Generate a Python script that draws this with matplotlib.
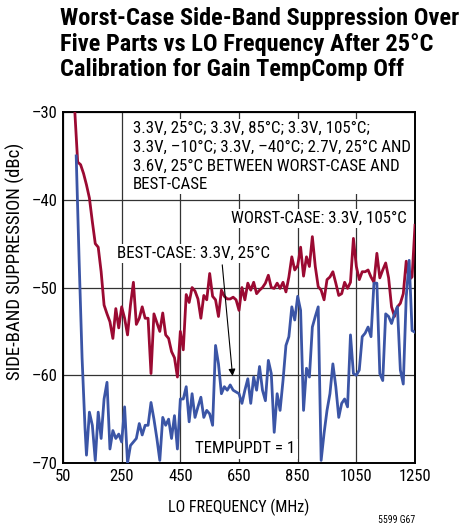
import matplotlib
matplotlib.use("Agg")
import matplotlib.pyplot as plt
from matplotlib import font_manager
import numpy as np

# pick a narrow face that is installed
fonts = font_manager.fontManager.ttflist
names = {f.name for f in fonts}
prefer = ['Roboto Condensed', 'Archivo Narrow', 'Fira Sans Condensed',
          'Barlow Semi Condensed', 'Asap Condensed']
narrow_font = next((n for n in prefer if n in names), 'DejaVu Sans')
plt.rcParams['font.family'] = [narrow_font, 'DejaVu Sans']

# LO frequency (MHz), 10 MHz steps
freq_worst = np.arange(90, 1251, 10)
worst = [-29.8, -35.7, -36.0, -37.0, -38.3, -39.8, -42.5, -45.0, -45.4, -48.2,
         -52.0, -53.0, -53.9, -55.8, -52.4, -54.6, -52.2, -53.5, -55.4, -52.0,
         -49.4, -54.2, -53.5, -52.2, -53.5, -53.5, -59.8, -53.0, -54.0, -55.0,
         -52.9, -55.4, -55.8, -57.3, -58.0, -60.2, -55.0, -57.1, -50.8, -51.7,
         -50.0, -50.4, -51.3, -53.5, -50.9, -51.4, -48.4, -51.0, -51.4, -53.3,
         -50.3, -51.0, -51.3, -51.3, -51.1, -51.4, -52.6, -50.0, -51.4, -49.5,
         -50.3, -49.4, -50.7, -50.3, -50.0, -49.5, -48.6, -50.0, -50.1, -49.5,
         -50.1, -49.4, -50.5, -48.8, -46.5, -48.0, -47.5, -45.4, -48.7, -46.5,
         -47.6, -44.2, -47.6, -49.9, -50.3, -51.4, -49.1, -48.8, -48.2, -49.5,
         -50.9, -50.7, -49.4, -50.1, -49.4, -44.4, -47.6, -49.1, -48.2, -48.2,
         -48.0, -48.8, -49.4, -46.1, -48.9, -48.0, -47.2, -48.9, -52.2, -53.3,
         -52.2, -51.8, -50.7, -47.0, -49.1, -48.8, -42.9]

freq_best = [95, 105, 115, 125] + list(range(130, 1251, 10))
best = [-35.0, -47.0, -58.0, -66.0,
        -69.1, -64.2, -65.7, -69.7, -64.2, -67.2, -62.7, -60.8, -68.4, -66.3,
        -67.2, -66.7, -67.6, -63.6, -70.0, -68.0, -67.6, -67.2, -65.5, -66.8,
        -65.7, -65.7, -63.1, -65.0, -67.2, -69.7, -64.8, -65.7, -65.0, -67.2,
        -64.6, -68.4, -62.7, -62.7, -61.3, -65.3, -62.1, -64.8, -63.6, -62.5,
        -64.8, -64.0, -64.4, -65.7, -56.6, -58.7, -62.1, -61.3, -61.7, -61.1,
        -61.7, -61.9, -62.1, -63.2, -61.7, -60.4, -63.2, -60.2, -61.7, -59.0,
        -61.7, -62.9, -58.3, -59.8, -66.5, -62.1, -64.0, -60.6, -56.6, -55.6,
        -52.2, -53.7, -51.0, -52.6, -64.0, -59.2, -60.2, -54.5, -53.3, -52.2,
        -69.7, -66.6, -64.0, -62.1, -58.7, -61.3, -64.8, -63.2, -62.7, -63.6,
        -55.4, -59.8, -60.0, -59.4, -55.6, -55.2, -54.5, -55.6, -49.5, -49.5,
        -59.8, -60.6, -53.0, -53.3, -54.1, -53.0, -52.2, -59.4, -61.0, -51.1,
        -46.9, -54.9, -55.1]

x_ticks = [50, 250, 450, 650, 850, 1050, 1250]
y_ticks = [-70, -60, -50, -40, -30]
y_labels = ['\u201370', '\u201360', '\u201350', '\u201340', '\u201330']

red = '#9b0a32'
blue = '#3b55a6'

fig = plt.figure(figsize=(4.65, 5.31), dpi=100)
ax = fig.add_axes([0.1355, 0.128, 0.757, 0.661])

ax.plot(freq_worst, worst, color=red, lw=2.0, zorder=4)
ax.plot(freq_best, best, color=blue, lw=2.0, zorder=4)

ax.set_xlim(50, 1250)
ax.set_ylim(-70, -30)
ax.set_xticks(x_ticks)
ax.set_yticks(y_ticks)
ax.set_yticklabels(y_labels)
ax.tick_params(length=0, labelsize=12, pad=4)
ax.set_axisbelow(True)
ax.grid(True, color='#333333', lw=0.9)
for s in ax.spines.values():
    s.set_linewidth(1.4)

ax.set_xlabel('LO FREQUENCY (MHz)', fontsize=11.5)
ax.xaxis.set_label_coords(0.5, -0.103)
ax.set_ylabel('SIDE-BAND SUPPRESSION (dBc)', fontsize=13.5)
ax.yaxis.set_label_coords(-0.108, 0.574)

box = dict(facecolor='white', edgecolor='none', pad=1.5)
fs = 12.2
ax.text(287, -31.0,
        '3.3V, 25\u00b0C; 3.3V, 85\u00b0C; 3.3V, 105\u00b0C;\n'
        '3.3V, \u201310\u00b0C; 3.3V, \u201340\u00b0C; 2.7V, 25\u00b0C AND\n'
        '3.6V, 25\u00b0C BETWEEN WORST-CASE AND\n'
        'BEST-CASE',
        fontsize=fs, va='top', ha='left', linespacing=1.32, bbox=box, zorder=3)
ax.text(1223, -42.1, 'WORST-CASE: 3.3V, 105\u00b0C', fontsize=fs,
        ha='right', va='center', bbox=box, zorder=3)
ax.text(756, -46.1, 'BEST-CASE: 3.3V, 25\u00b0C', fontsize=fs,
        ha='right', va='center', bbox=box, zorder=3)
ax.text(672, -68.4, 'TEMPUPDT = 1', fontsize=fs,
        ha='center', va='center', bbox=box, zorder=3)
ax.annotate('', xy=(629, -60.4), xytext=(592, -47.1),
            arrowprops=dict(arrowstyle='-|>', color='black', lw=0.8,
                            mutation_scale=10), zorder=5)

fig.text(0.129, 0.986,
         'Worst-Case Side-Band Suppression Over\n'
         'Five Parts vs LO Frequency After 25\u00b0C\n'
         'Calibration for Gain TempComp Off',
         fontsize=17.6, fontweight='bold',
         ha='left', va='top', linespacing=1.12)
fig.text(0.893, 0.012, '5599 G67', fontsize=7, ha='right', va='bottom')

fig.savefig('out.png', dpi=100)
